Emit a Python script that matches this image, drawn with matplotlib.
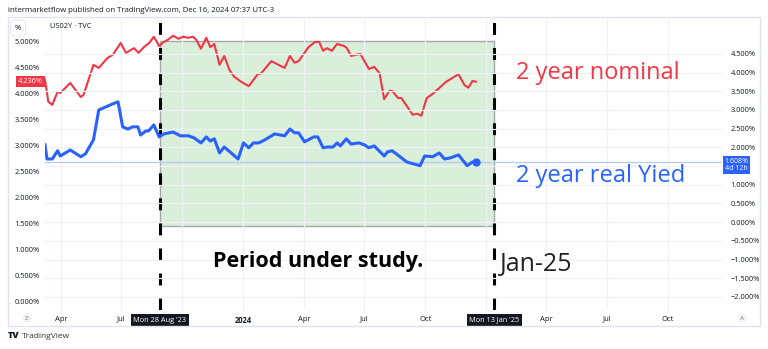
import numpy as np
import pandas as pd
import matplotlib
matplotlib.use('Agg')
import matplotlib.pyplot as plt
import matplotlib.dates as mdates
from matplotlib.patches import Rectangle
from matplotlib.transforms import blended_transform_factory

plt.rcParams['font.family'] = ['Open Sans', 'DejaVu Sans']

# 2 year nominal (US02Y), left scale
nom_dates = ['2023-03-08', '2023-03-13', '2023-03-19', '2023-03-27', '2023-03-31', '2023-04-15',
             '2023-05-01', '2023-05-05', '2023-05-20', '2023-05-28', '2023-06-10', '2023-06-18',
             '2023-06-30', '2023-07-08', '2023-07-20', '2023-07-27', '2023-08-04', '2023-08-12',
             '2023-08-19', '2023-08-27', '2023-09-03', '2023-09-09', '2023-09-17', '2023-09-25',
             '2023-10-02', '2023-10-10', '2023-10-17', '2023-10-22', '2023-10-29', '2023-11-06',
             '2023-11-12', '2023-11-18', '2023-11-26', '2023-12-03', '2023-12-11', '2023-12-18',
             '2023-12-29', '2024-01-09', '2024-01-22', '2024-01-28', '2024-02-12', '2024-03-03',
             '2024-03-11', '2024-03-18', '2024-03-24', '2024-04-08', '2024-04-18', '2024-04-24',
             '2024-04-30', '2024-05-06', '2024-05-13', '2024-05-21', '2024-06-01', '2024-06-05',
             '2024-06-11', '2024-06-25', '2024-07-08', '2024-07-16', '2024-07-24', '2024-07-31',
             '2024-08-08', '2024-08-12', '2024-08-21', '2024-08-26', '2024-09-12', '2024-09-19',
             '2024-09-25', '2024-10-03', '2024-10-12', '2024-11-01', '2024-11-20', '2024-11-29',
             '2024-12-05', '2024-12-11', '2024-12-16']
nom_vals = [4.27, 3.85, 3.79, 4.04, 4.02, 4.21, 3.94, 3.98, 4.56, 4.50, 4.69, 4.75, 4.98, 4.79,
            4.88, 4.79, 4.90, 4.98, 5.10, 4.92, 5.00, 5.04, 5.12, 5.06, 5.10, 5.08, 5.10, 5.04,
            4.87, 5.08, 4.90, 4.96, 4.56, 4.73, 4.46, 4.33, 4.23, 4.15, 4.37, 4.40, 4.63, 4.50,
            4.73, 4.60, 4.63, 4.90, 5.00, 5.00, 4.83, 4.88, 4.83, 4.96, 4.92, 4.88, 4.73, 4.77,
            4.48, 4.52, 4.40, 3.90, 4.06, 4.06, 3.92, 3.92, 3.60, 3.62, 3.58, 3.92, 4.00, 4.23,
            4.38, 4.17, 4.12, 4.25, 4.236]

# 2 year real yield, right scale
real_dates = ['2023-03-08', '2023-03-11', '2023-03-19', '2023-03-27', '2023-03-31', '2023-04-15',
              '2023-05-01', '2023-05-08', '2023-05-20', '2023-05-28', '2023-06-15', '2023-06-26',
              '2023-07-03', '2023-07-11', '2023-07-18', '2023-07-26', '2023-07-30', '2023-08-07',
              '2023-08-11', '2023-08-19', '2023-08-27', '2023-09-03', '2023-09-17', '2023-09-28',
              '2023-10-10', '2023-10-19', '2023-10-29', '2023-11-06', '2023-11-12', '2023-11-18',
              '2023-11-26', '2023-12-03', '2023-12-24', '2024-01-01', '2024-01-09', '2024-01-16',
              '2024-01-24', '2024-02-02', '2024-02-17', '2024-03-03', '2024-03-11', '2024-03-18',
              '2024-03-24', '2024-04-02', '2024-04-16', '2024-04-22', '2024-04-30', '2024-05-06',
              '2024-05-15', '2024-05-21', '2024-05-26', '2024-06-04', '2024-06-11', '2024-06-23',
              '2024-07-01', '2024-07-08', '2024-07-16', '2024-07-31', '2024-08-05', '2024-08-12',
              '2024-08-24', '2024-09-03', '2024-09-23', '2024-09-30', '2024-10-12', '2024-10-22',
              '2024-10-30', '2024-11-08', '2024-11-20', '2024-12-03', '2024-12-11', '2024-12-16']
real_vals = [2.07, 1.69, 1.69, 1.91, 1.77, 1.93, 1.75, 1.83, 2.20, 3.00, 3.14, 3.22, 2.55, 2.49,
             2.55, 2.55, 2.33, 2.44, 2.44, 2.60, 2.28, 2.36, 2.41, 2.31, 2.31, 2.25, 2.12, 2.28,
             2.17, 2.23, 1.85, 2.01, 1.69, 2.12, 1.99, 2.12, 2.12, 2.20, 2.36, 2.31, 2.49, 2.39,
             2.39, 2.15, 2.28, 2.28, 1.99, 2.01, 2.01, 2.12, 2.04, 2.23, 2.09, 2.12, 2.07, 1.99,
             2.04, 1.77, 1.88, 1.91, 1.75, 1.61, 1.51, 1.77, 1.75, 1.85, 1.69, 1.72, 1.80, 1.51,
             1.61, 1.608]

tick_dates = ['2023-04-01', '2023-07-01', '2023-10-01', '2024-01-01', '2024-04-01', '2024-07-01',
              '2024-10-01', '2025-01-01', '2025-04-01', '2025-07-01', '2025-10-01']
tick_labels = ['Apr', 'Jul', '', '2024', 'Apr', 'Jul', 'Oct', '', 'Apr', 'Jul', 'Oct']

study_start = '2023-08-28'
study_end = '2025-01-13'
study_low, study_high = 1.47, 5.02

RED = '#f23645'
BLUE = '#2962ff'
TXT = '#131722'
GRID = '#eef1f6'

W, H = 768, 349


def fx(px):
    return px / W


def fy(py):
    return 1 - py / H


fig = plt.figure(figsize=(7.68, 3.49), dpi=100)
fig.patch.set_facecolor('white')

# chart frame
fig.patches.append(Rectangle((fx(8), fy(326)), fx(760) - fx(8), fy(17) - fy(326),
                             transform=fig.transFigure, fill=False, ec='#e0e3eb', lw=1))

ax = fig.add_axes([fx(45), fy(310), fx(722) - fx(45), fy(18) - fy(310)])
ax2 = ax.twinx()

nd = pd.to_datetime(nom_dates)
rd = pd.to_datetime(real_dates)

ax.set_xlim(pd.Timestamp('2023-03-08'), pd.Timestamp('2025-12-22'))
ax.set_ylim(-0.154, 5.46)
ax2.set_ylim(-2.348, 5.46)

for a in (ax, ax2):
    for s in a.spines.values():
        s.set_visible(False)

ax.set_xticks(pd.to_datetime(tick_dates))
ax.set_xticklabels(tick_labels)
ax.get_xticklabels()[3].set_fontweight('bold')
ax.grid(axis='x', color=GRID, lw=0.9)
ax2.grid(axis='y', color=GRID, lw=0.9)

left_ticks = np.arange(0, 5.01, 0.5)
ax.set_yticks(left_ticks)
ax.set_yticklabels(['{:.3f}%'.format(v) for v in left_ticks])
right_ticks = np.arange(-2, 4.51, 0.5)
ax2.set_yticks(right_ticks)
# the 1.500% label sits under the last-value badge, as in the reference
ax2.set_yticklabels(['' if abs(v - 1.5) < 1e-9 else '{:.3f}%'.format(v).replace('-', '\u2212')
                     for v in right_ticks])

ax.tick_params(axis='both', length=0, labelsize=5.3, colors=TXT)
ax.tick_params(axis='y', pad=4)
ax.tick_params(axis='x', pad=4, labelsize=5.5)
ax2.tick_params(axis='y', length=0, labelsize=5.3, colors=TXT, pad=6)

# study period
x0 = mdates.date2num(pd.Timestamp(study_start))
x1 = mdates.date2num(pd.Timestamp(study_end))
ax.add_patch(Rectangle((x0, study_low), x1 - x0, study_high - study_low,
                       fc='#d9efd9', ec='#a3a7ae', lw=1, zorder=1))
for d in (study_start, study_end):
    ax.axvline(pd.Timestamp(d), color='black', lw=2.2, dashes=(3.9, 4.3), zorder=2)

ax.plot(nd, nom_vals, color=RED, lw=1.5, zorder=3)

ax2.axhline(real_vals[-1], color='#b7cbf8', lw=0.9, zorder=1)
ax2.plot(rd, real_vals, color=BLUE, lw=2.2, zorder=3)
ax2.plot(rd[-1:], real_vals[-1:], 'o', color=BLUE, ms=5, zorder=4)

# last value labels
tl = blended_transform_factory(ax.transAxes, ax.transData)
ax.text(-0.003, nom_vals[-1], '{:.3f}%'.format(nom_vals[-1]), transform=tl, ha='right',
        va='center', color='white', fontsize=5.3,
        bbox=dict(boxstyle='square,pad=0.25', fc=RED, ec='none'), clip_on=False, zorder=6)
tr = blended_transform_factory(ax2.transAxes, ax2.transData)
ax2.text(1.004, real_vals[-1] - 0.08, '{:.3f}%\n4d 12h'.format(real_vals[-1]), transform=tr,
         ha='left', va='center', color='white', fontsize=5.0, linespacing=1.1,
         bbox=dict(boxstyle='square,pad=0.25', fc=BLUE, ec='none'), clip_on=False, zorder=6)

# date labels on the time axis
tb = blended_transform_factory(ax.transData, ax.transAxes)
for d, lab in ((study_start, "Mon 28 Aug '23"), (study_end, "Mon 13 Jan '25")):
    ax.text(pd.Timestamp(d), -0.035, lab, transform=tb, ha='center', va='center',
            color='white', fontsize=5.3,
            bbox=dict(boxstyle='square,pad=0.35', fc=TXT, ec='none'), clip_on=False, zorder=6)

# annotations
fig.text(fx(516), fy(73), '2 year nominal', color=RED, fontsize=17, va='center')
fig.text(fx(516), fy(176), '2 year real Yied', color=BLUE, fontsize=17, va='center')
fig.text(fx(318), fy(262), 'Period under study.', color='black', fontsize=15.5,
         fontweight='bold', ha='center', va='center')
fig.text(fx(500), fy(265), 'Jan-25', color='#222222', fontsize=18, va='center')

# TradingView chrome
fig.text(fx(8), fy(10), 'intermarketflow published on TradingView.com, Dec 16, 2024 07:37 UTC-3',
         fontsize=5.6, color=TXT, va='center')
fig.text(fx(50), fy(27), 'US02Y \u00b7 TVC', fontsize=5.4, color=TXT, va='center')
fig.text(fx(18), fy(28), '%', fontsize=5.4, color=TXT, va='center', ha='center',
         bbox=dict(boxstyle='round,pad=0.6', fc='white', ec='#e0e3eb', lw=0.6))
fig.text(fx(27), fy(318), 'Z', fontsize=4.5, color='#787b86', va='center', ha='center',
         bbox=dict(boxstyle='circle,pad=0.35', fc='#f0f3fa', ec='none'))
fig.text(fx(742), fy(318), 'A', fontsize=4.5, color='#787b86', va='center', ha='center',
         bbox=dict(boxstyle='circle,pad=0.35', fc='#f0f3fa', ec='none'))
fig.text(fx(8), fy(336), 'TV', fontsize=6.5, fontweight='heavy', color=TXT, va='center')
fig.text(fx(22), fy(336), 'TradingView', fontsize=6, color='#333333', va='center')

fig.savefig('out.png', dpi=100)
